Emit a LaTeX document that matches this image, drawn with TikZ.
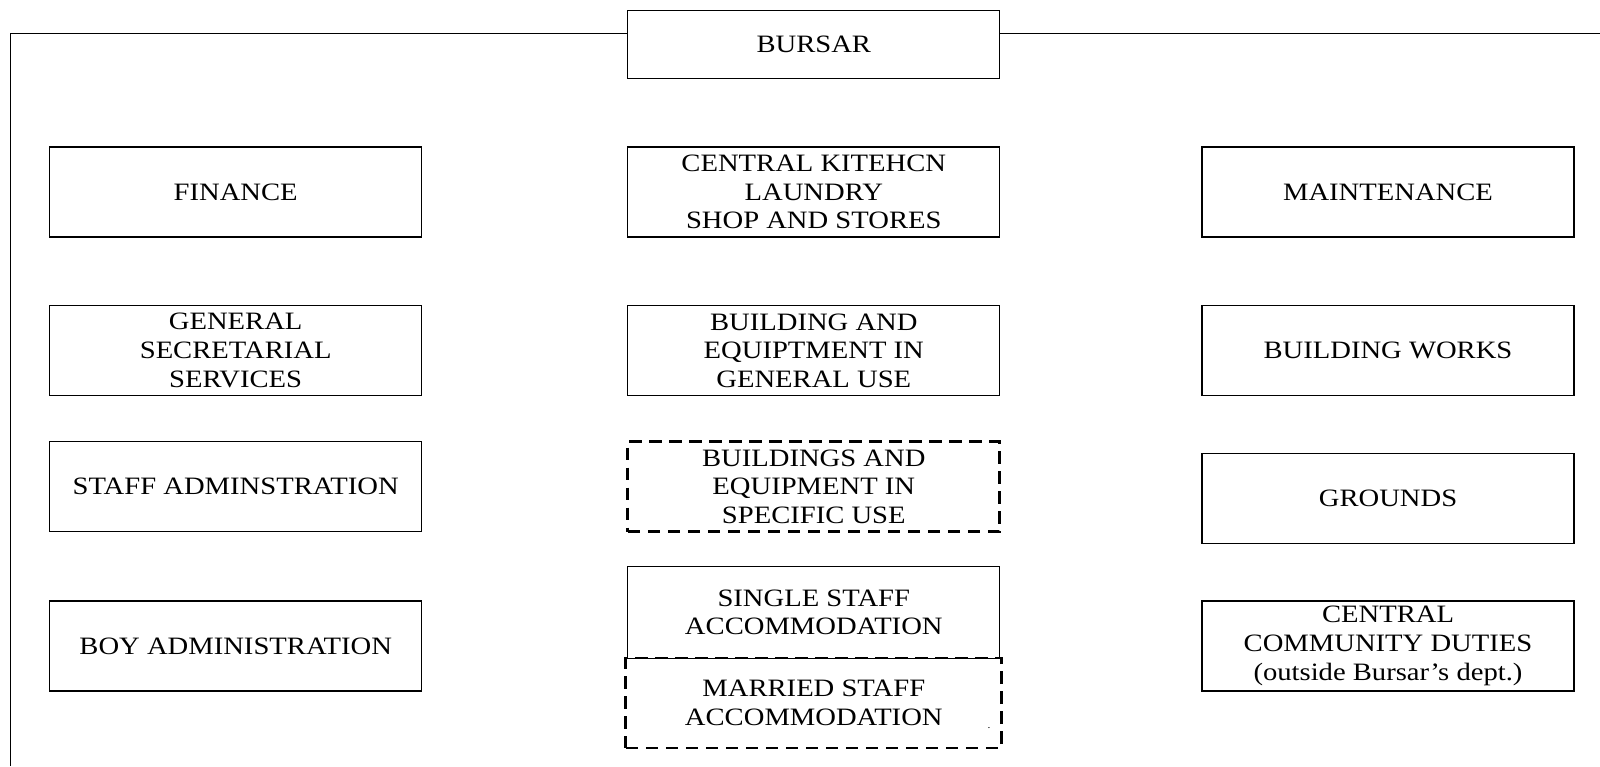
\documentclass[tikz,border=0pt]{standalone}
\usepackage{fontspec}
\setmainfont{Liberation Serif}[FakeStretch=1.145]
\usetikzlibrary{positioning}
\tikzset{
	unit/.style={draw, line width=0.65pt, minimum width=186pt, minimum height=45pt, inner sep=0pt, align=center, font=\fontsize{12.5}{14.3}\selectfont},
	unitdash/.style={unit, line width=1.4pt, dash pattern=on 6.3pt off 3.7pt},
}
\begin{document}
\begin{tikzpicture}[x=0.5pt, y=-0.5pt]
		\useasboundingbox (0,0) rectangle (1600,766);
		%coordinates
		\coordinate (TopL)   at (10.2,33.7);
		\coordinate (BotL)   at (10.2,766);
		\coordinate (TopR)   at (1600,33.7);
		
		%nodes
		\node[unit, minimum height=34.2pt] (Bursar) at (813.8,44.4) {BURSAR};
		
		\node[unit] (Fin)    at (235.7,191.9) {FINANCE};
		\node[unit] (Secr)   at (235.7,350.5) {GENERAL\\ SECRETARIAL\\ SERVICES};
		\node[unit] (StaffA) at (235.7,486.7) {STAFF ADMINSTRATION};
		\node[unit] (BoyA)   at (235.7,645.9) {BOY ADMINISTRATION};
		
		\node[unit] (Kitch)  at (813.8,191.9) {CENTRAL KITEHCN\\ LAUNDRY\\ SHOP AND STORES};
		\node[unit] (BldGen) at (813.8,350.5) {BUILDING AND\\ EQUIPTMENT IN\\ GENERAL USE};
		\node[unitdash] (BldSpec) at (813.8,486.7) {BUILDINGS AND\\ EQUIPMENT IN\\ SPECIFIC USE};
		\node[unit, minimum height=46pt] (Single) at (813.8,612.3) {SINGLE STAFF\\ ACCOMMODATION};
		\node[unitdash, minimum width=188pt] (Married) at (813.8,703) {MARRIED STAFF\\ ACCOMMODATION};
		\node[font=\tiny, inner sep=0pt] (Dot) at (989,728) {.};
		
		\node[unit] (Maint)  at (1388,191.9) {MAINTENANCE};
		\node[unit] (Works)  at (1388,350.5) {BUILDING WORKS};
		\node[unit] (Ground) at (1388,498.5) {GROUNDS};
		\node[unit] (Comm)   at (1388,645.9) {CENTRAL\\ COMMUNITY DUTIES\\ (outside Bursar’s dept.)};
		
		\draw[line width=0.65pt] (BotL) -- (TopL) -- (TopL -| Bursar.west);
		\draw[line width=0.65pt] (TopL -| Bursar.east) -- (TopR);
\end{tikzpicture}
\end{document}
